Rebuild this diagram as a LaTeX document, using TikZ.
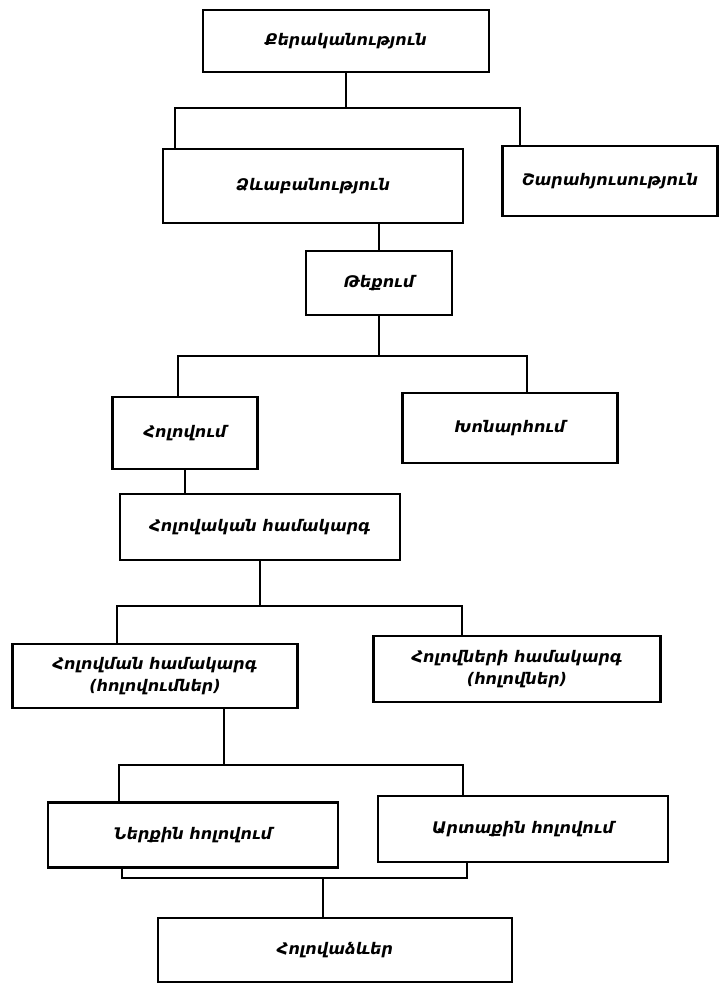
\documentclass[tikz,border=0pt]{standalone}
\usepackage{fontspec}
\setmainfont{DejaVu Sans}
\begin{document}
\begin{tikzpicture}[x=1pt,y=-1pt,line width=2.4pt,
 font=\fontsize{16}{22}\selectfont\bfseries\itshape,
 box/.style 2 args={draw,inner sep=2pt,align=center,minimum width=#1,minimum height=#2}]
\useasboundingbox (0,0) rectangle (728,988);

\node[box={286}{62}] (gram) at (346,41) {Քերականություն};
\node[box={300}{74}] (morph) at (313,186) {Ձևաբանություն};
\node[box={215}{70}] (synt) at (610,181) {Շարահյուսություն};
\node[box={146}{64}] (thek) at (379,283) {Թեքում};
\node[box={145}{72}] (holovum) at (185,433) {Հոլովում};
\node[box={215}{70}] (khon) at (510,428) {Խոնարհում};
\node[box={280}{66}] (hamak) at (260,527) {Հոլովական համակարգ};
\node[box={285}{64}] (holovman) at (155,676) {Հոլովման համակարգ\\(հոլովումներ)};
\node[box={287}{66}] (holovner) at (517,669) {Հոլովների համակարգ\\(հոլովներ)};
\node[box={290}{65}] (nerkin) at (193,835) {Ներքին հոլովում};
\node[box={290}{66}] (artakin) at (523,829) {Արտաքին հոլովում};
\node[box={354}{64}] (dzever) at (335,950) {Հոլովաձևեր};

%bars
\coordinate (b1l) at (175,108); \coordinate (b1r) at (520,108);
\coordinate (b2l) at (178,356); \coordinate (b2r) at (527,356);
\coordinate (b3l) at (117,606); \coordinate (b3r) at (462,606);
\coordinate (b4l) at (119,765); \coordinate (b4r) at (463,765); \coordinate (b4c) at (224,765);
\coordinate (b5l) at (122,878); \coordinate (b5r) at (467,878); \coordinate (b5c) at (323,878);

\draw (gram.south) -- (gram.south |- b1l); %grammar
\draw (morph.north -| b1l) -- (b1l) -- (b1r) -- (synt.north -| b1r);
\draw (morph.south -| thek.north) -- (thek.north); %inflection
\draw (thek.south) -- (thek.south |- b2l);
\draw (holovum.north -| b2l) -- (b2l) -- (b2r) -- (khon.north -| b2r);
\draw (holovum.south) -- (holovum.south |- hamak.north); %declension
\draw (hamak.south) -- (hamak.south |- b3l);
\draw (holovman.north -| b3l) -- (b3l) -- (b3r) -- (holovner.north -| b3r);
\draw (holovman.south -| b4c) -- (b4c); %system
\draw (nerkin.north -| b4l) -- (b4l) -- (b4r) -- (artakin.north -| b4r);
\draw (nerkin.south -| b5l) -- (b5l) -- (b5r) -- (artakin.south -| b5r); %forms
\draw (b5c) -- (dzever.north -| b5c);
\end{tikzpicture}
\end{document}
